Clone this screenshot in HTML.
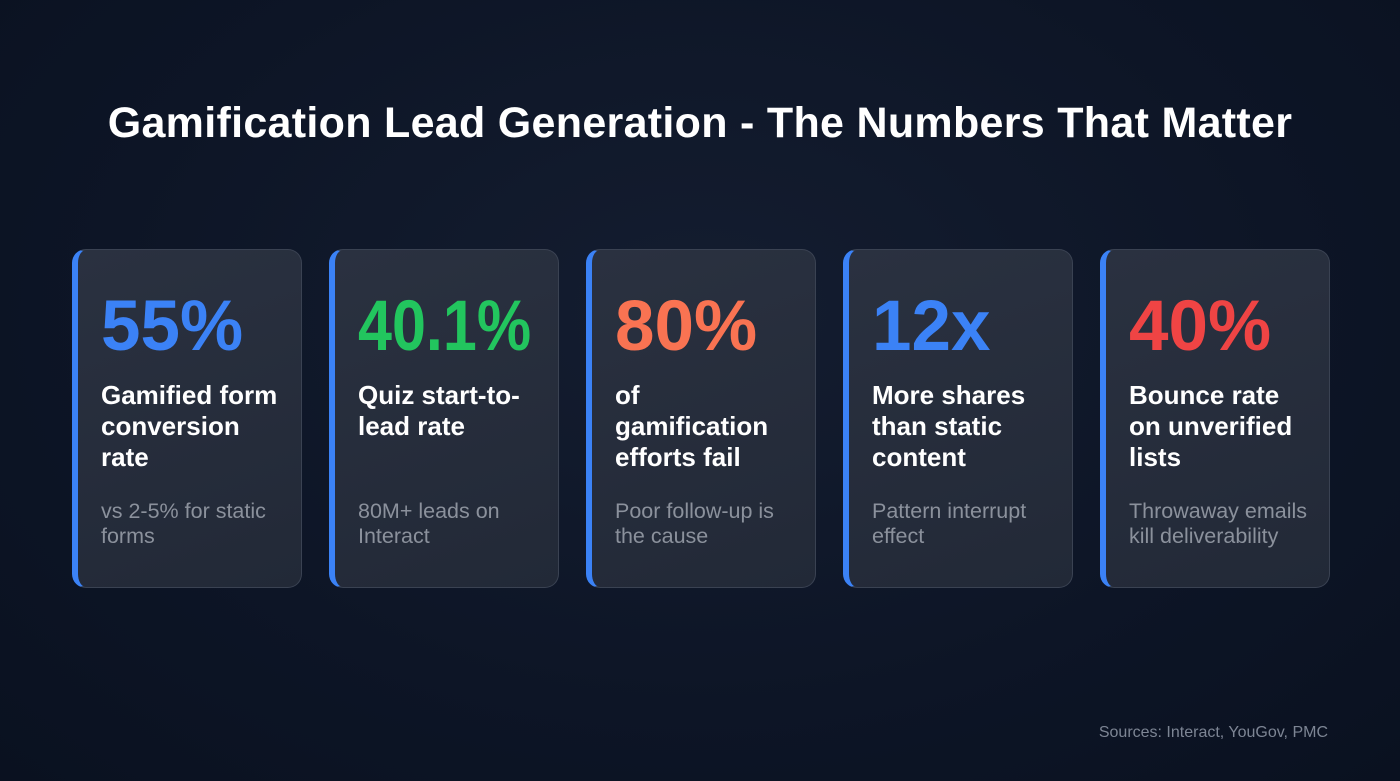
<!DOCTYPE html>
<html><head><meta charset="utf-8"><style>
body{margin:0;width:1400px;height:781px;overflow:hidden;background:radial-gradient(ellipse at 50% 40%,#141d30 0%,#0d1526 60%,#0a1120 100%);font-family:"Liberation Sans",sans-serif;position:relative}
h1{position:absolute;top:99px;left:0;width:1400px;text-align:center;margin:0;color:#fff;font-size:43px;font-weight:bold;letter-spacing:0.3px}
.card{position:absolute;top:249px;width:223px;height:337px;background:linear-gradient(160deg,#2a3140 0%,#222937 100%);border:1px solid #3a4252;border-left:6px solid #3b82f6;border-radius:14px;box-sizing:content-box}
.num{position:absolute;left:23px;top:37px;font-size:71px;font-weight:bold;line-height:80px;transform-origin:left center;white-space:nowrap}
.lab{position:absolute;left:23px;top:130px;width:178px;color:#fff;font-size:26px;font-weight:bold;line-height:31px}
.sub{position:absolute;left:23px;top:249px;width:186px;color:#8b919c;font-size:21.5px;line-height:25px}
.src{position:absolute;right:72px;top:724px;color:#7d8594;font-size:16px}
</style></head><body>
<h1>Gamification Lead Generation - The Numbers That Matter</h1>
<div class="card" style="left:72px"><div class="num" style="color:#3b82f6">55%</div><div class="lab">Gamified form conversion rate</div><div class="sub">vs 2-5% for static forms</div></div>
<div class="card" style="left:329px"><div class="num" style="color:#22c55e;transform:scaleX(0.86)">40.1%</div><div class="lab">Quiz start-to-lead rate</div><div class="sub">80M+ leads on Interact</div></div>
<div class="card" style="left:586px"><div class="num" style="color:#f97352">80%</div><div class="lab">of gamification efforts fail</div><div class="sub">Poor follow-up is the cause</div></div>
<div class="card" style="left:843px"><div class="num" style="color:#3b82f6">12x</div><div class="lab">More shares than static content</div><div class="sub">Pattern interrupt effect</div></div>
<div class="card" style="left:1100px"><div class="num" style="color:#ef4444">40%</div><div class="lab">Bounce rate on unverified lists</div><div class="sub">Throwaway emails kill deliverability</div></div>
<div class="src">Sources: Interact, YouGov, PMC</div>
</body></html>
